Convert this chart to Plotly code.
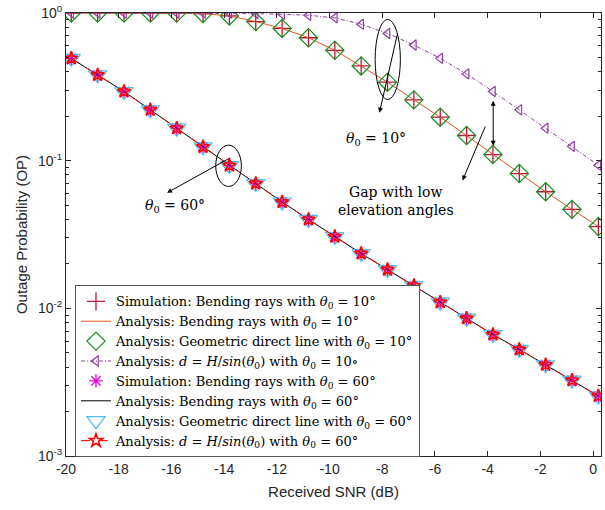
import plotly.graph_objects as go

# ---------------- data ----------------
snr_db = [-19.8, -18.8, -17.8, -16.8, -15.8, -14.8, -13.8, -12.8, -11.8, -10.8,
          -9.8, -8.8, -7.8, -6.8, -5.8, -4.8, -3.8, -2.8, -1.8, -0.8, 0.2]

# theta0 = 10 deg, bending rays (simulation / analysis / geometric line coincide)
op_10_bend = [1.0, 1.0, 1.0, 1.0, 0.998, 0.99, 0.955, 0.875, 0.786, 0.68,
              0.559, 0.438, 0.340, 0.258, 0.197, 0.148, 0.110, 0.0818, 0.0616, 0.0468, 0.0358]
op_10_geo = [1.0, 1.0, 1.0, 1.0, 0.998, 0.99, 0.955, 0.875, 0.786, 0.68,
             0.559, 0.438, 0.340, 0.258, 0.197, 0.148, 0.110, 0.0818, 0.0616, 0.0468, 0.0358]
# theta0 = 10 deg, d = H/sin(theta0)
op_10_hsin = [1.0, 1.0, 1.0, 1.0, 1.0, 1.0, 0.998, 0.99, 0.98, 0.966,
              0.927, 0.84, 0.727, 0.607, 0.493, 0.387, 0.294, 0.221, 0.166, 0.125, 0.0932]

# theta0 = 60 deg (all four curves coincide)
op_60_sim = [0.493, 0.381, 0.294, 0.221, 0.166, 0.124, 0.0927, 0.070, 0.0525, 0.040,
             0.0306, 0.0235, 0.0183, 0.01425, 0.011, 0.00858, 0.00665, 0.00527, 0.00415, 0.00326, 0.00255]
op_60_bend = list(op_60_sim)
op_60_geo = list(op_60_sim)
op_60_hsin = list(op_60_sim)

y_tickvals = [1e-3, 1e-2, 1e-1, 1]
y_ticktext = ["10<sup>-3</sup>", "10<sup>-2</sup>", "10<sup>-1</sup>", "10<sup>0</sup>"]
y_minor = [m * 10 ** e for e in (-3, -2, -1) for m in range(2, 10)]
x_tickvals = [-20, -18, -16, -14, -12, -10, -8, -6, -4, -2, 0]
x_ticktext = ["-20", "-18", "-16", "-14", "-12", "-10", "-8", "-6", "-4", "-2", "0"]

th = "<i>θ</i><sub>0</sub>"
hsin = "<i>d</i> = <i>H</i>/<i>sin</i>(<i>θ</i><sub>0</sub>)"

fig = go.Figure()

fig.add_trace(go.Scatter(x=snr_db, y=op_10_bend, mode="markers",
                         name=f"Simulation: Bending rays with {th} = 10°",
                         marker=dict(symbol="cross-thin-open", size=13, color="#B2183A",
                                     line=dict(color="#B2183A", width=1.3))))
fig.add_trace(go.Scatter(x=snr_db, y=op_10_bend, mode="lines",
                         name=f"Analysis: Bending rays with {th} = 10°",
                         line=dict(color="#E0561B", width=1)))
fig.add_trace(go.Scatter(x=snr_db, y=op_10_geo, mode="markers",
                         name=f"Analysis: Geometric direct line with {th} = 10°",
                         marker=dict(symbol="diamond-open", size=14, color="#13901A",
                                     line=dict(color="#13901A", width=1.2))))
fig.add_trace(go.Scatter(x=snr_db, y=op_10_hsin, mode="lines+markers",
                         name=f"Analysis: {hsin} with {th} = 10∘",
                         line=dict(color="#8E3FA0", width=1, dash="4px,2px,1px,2px"),
                         marker=dict(symbol="triangle-left-open", size=9, color="#8E3FA0",
                                     line=dict(color="#8E3FA0", width=1.2))))
fig.add_trace(go.Scatter(x=snr_db, y=op_60_sim, mode="markers",
                         name=f"Simulation: Bending rays with {th} = 60°",
                         marker=dict(symbol="asterisk-open", size=11, color="#E000E0",
                                     line=dict(color="#E000E0", width=1.3))))
fig.add_trace(go.Scatter(x=snr_db, y=op_60_bend, mode="lines",
                         name=f"Analysis: Bending rays with {th} = 60°",
                         line=dict(color="black", width=1)))
fig.add_trace(go.Scatter(x=snr_db, y=op_60_geo, mode="markers",
                         name=f"Analysis: Geometric direct line with {th} = 60°",
                         marker=dict(symbol="triangle-down-open", size=16, color="#4DBEEE",
                                     line=dict(color="#4DBEEE", width=1.2))))
fig.add_trace(go.Scatter(x=snr_db, y=op_60_hsin, mode="lines+markers",
                         name=f"Analysis: {hsin} with {th} = 60°",
                         line=dict(color="red", width=1, dash="dash"),
                         marker=dict(symbol="star-open", size=10, color="red",
                                     line=dict(color="red", width=1.6))))

L, T, W, H = 66, 9.5, 536, 446.5


def fx(p):
    return (p - L) / W


def fy(p):
    return (T + H - p) / H


shapes = [
    dict(type="circle", xref="paper", yref="paper",
         x0=fx(375.7), x1=fx(401), y0=fy(96.7), y1=fy(16),
         line=dict(color="black", width=1)),
    dict(type="circle", xref="paper", yref="paper",
         x0=fx(216), x1=fx(241.7), y0=fy(184.3), y1=fy(142.7),
         line=dict(color="black", width=1)),
]

serif = "DejaVu Serif, Liberation Serif, serif"
ann_font = dict(family=serif, size=14, color="black")
arrow = dict(showarrow=True, arrowhead=2, arrowsize=1, arrowwidth=1,
             arrowcolor="black", text="", xref="paper", yref="paper")
annotations = [
    dict(x=fx(380), y=fy(110), ax=18.3, ay=-80, **arrow),
    dict(xref="paper", yref="paper", x=fx(376.7), y=fy(125), showarrow=False,
         text=f"{th} = 10°", font=ann_font),
    dict(x=fx(167.3), y=fy(190.7), ax=64.4, ay=-35.7, **arrow),
    dict(xref="paper", yref="paper", x=fx(143.3), y=fy(204), showarrow=False,
         text=f"{th} = 60°", font=ann_font),
    dict(x=fx(494), y=fy(143.3), ax=0, ay=-46.6, startarrowhead=2,
         arrowside="end+start", **arrow),
    dict(x=fx(463.3), y=fy(178.3), ax=23.4, ay=-55.6, **arrow),
    dict(xref="paper", yref="paper", x=fx(457), y=fy(198.7), showarrow=False,
         text="Gap with low<br>elevation angles", font=ann_font, align="center"),
]

sans = "Liberation Sans, Arial, sans-serif"
axis_common = dict(showline=True, linecolor="#262626", linewidth=1, mirror="allticks",
                   ticks="inside", ticklen=5, tickcolor="#262626", showgrid=False,
                   zeroline=False, tickfont=dict(family=sans, size=14, color="#262626"))

fig.update_layout(
    width=605, height=510,
    margin=dict(l=L, r=605 - L - W, t=T, b=510 - T - H),
    paper_bgcolor="white", plot_bgcolor="white",
    xaxis=dict(range=[-20, 0.3], tickvals=x_tickvals, ticktext=x_ticktext,
               title=dict(text="Received SNR (dB)", font=dict(family=sans, size=15, color="#262626"),
                          standoff=10),
               **axis_common),
    yaxis=dict(type="log", range=[-3, 0], tickvals=y_tickvals, ticktext=y_ticktext,
               minor=dict(tickmode="array", tickvals=y_minor, ticks="inside", ticklen=3,
                          tickcolor="#262626", showgrid=False),
               title=dict(text="Outage Probability (OP)", font=dict(family=sans, size=15, color="#262626"),
                          standoff=6),
               **axis_common),
    legend=dict(x=fx(75), y=fy(284), xanchor="left", yanchor="top",
                bgcolor="white", bordercolor="#555555", borderwidth=1,
                font=dict(family=serif, size=13, color="black"),
                itemwidth=30, tracegroupgap=0),
    shapes=shapes, annotations=annotations,
    showlegend=True,
)

fig.write_html("out.html", config={"displayModeBar": False},
               post_script="document.body.style.margin='0';")
